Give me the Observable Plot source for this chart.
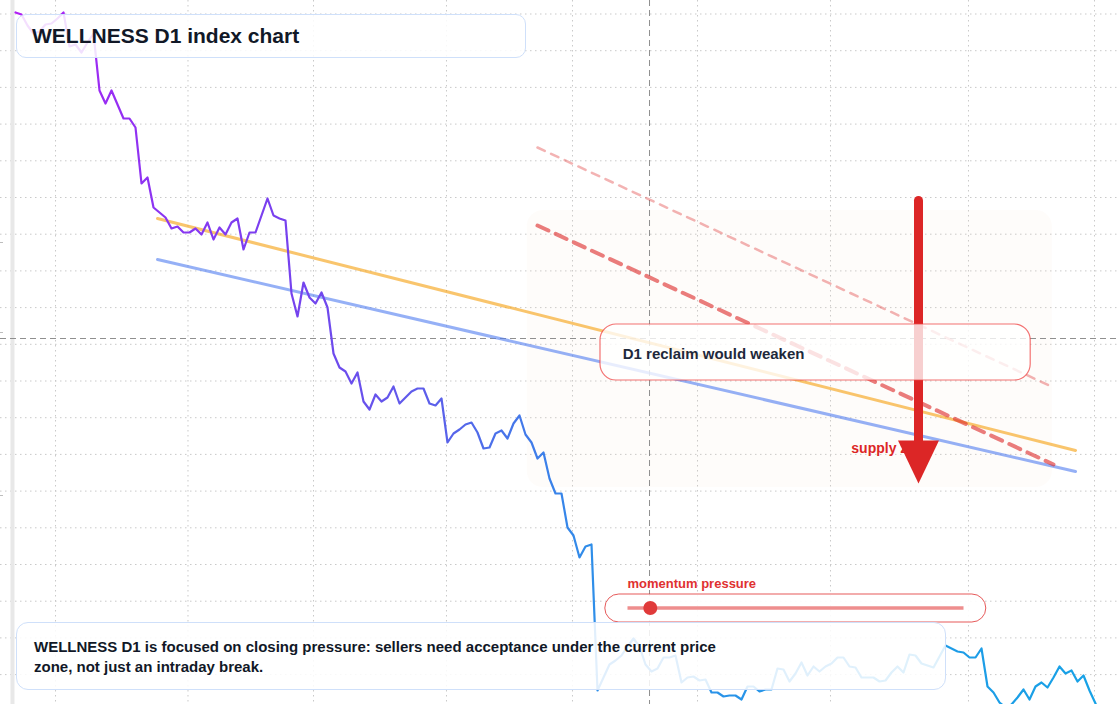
<!DOCTYPE html>
<html><head><meta charset="utf-8">
<script src="https://cdn.jsdelivr.net/npm/d3@7"></script>
<script src="https://cdn.jsdelivr.net/npm/@observablehq/plot@0.6"></script>
<style>
html,body{margin:0;padding:0;background:#fff;}
#wrap{position:relative;width:1120px;height:704px;overflow:hidden;font-family:"Liberation Sans",Arial,sans-serif;}
#wrap svg{display:block;}
.box{position:absolute;box-sizing:border-box;background:rgba(255,255,255,0.86);border:1px solid #cfe0fa;color:#111827;font-weight:bold;display:flex;align-items:center;}
#title{left:16px;top:14px;width:510px;height:44px;border-radius:10px;padding-left:15px;font-size:21px;}
#caption{left:16px;top:622px;width:930px;height:68px;border-radius:12px;padding-left:17px;padding-top:2px;font-size:15px;line-height:20px;}
</style></head>
<body>
<div id="wrap">
  <div id="chart"></div>
  <div class="box" id="title">WELLNESS D1 index chart</div>
  <div class="box" id="caption"><div>WELLNESS D1 is focused on closing pressure: sellers need acceptance under the current price<br>zone, not just an intraday break.</div></div>
</div>
<script>
// daily closes (index level), one per session
const closes = [
  988,986,975,967,969,976,977,982,988,954,
  956,948,958,967,910,897,910,896,882,882,
  873,817,823,793,788,783,772,774,768,768,
  772,766,778,761,773,766,778,782,751,768,
  768,785,802,785,782,780,707,684,718,703,
  697,708,693,647,633,629,617,628,599,591,
  606,599,603,614,597,603,609,612,612,597,
  595,602,558,567,571,576,578,568,552,553,
  567,570,562,577,585,566,558,542,548,522,
  507,507,473,465,443,454,456,310,323,336,
  340,345,354,362,354,336,329,332,343,343,
  345,318,323,324,320,321,308,308,304,305,
  305,301,314,314,309,311,311,332,331,319,
  327,338,325,334,329,334,337,343,343,334,
  333,323,323,323,319,320,328,334,328,346,
  345,337,335,333,344,355,352,349,348,343,
  343,352,314,308,298,293,296,303,311,301,
  314,318,313,323,334,327,330,319,325,310,
  297,288
];
// grid / axis positions
const monthTicks = [6.67, 28.75, 49.67, 71.83, 92.83, 113.67, 135.83, 158.83, 179.83];
const levelTicks = [986.5, 949.8, 913.1, 876.4, 839.7, 803, 766.3, 729.6, 692.9, 656.2, 619.5, 582.8, 546.1, 509.4, 472.7, 436, 399.3, 362.6, 325.9];
const axisStubs = [758, 668, 505];
// trend lines
const trendSessions = [23.67, 176.67];
const upperTrend = [782, 550];
const lowerTrend = [741, 529];
const supplySessions = [87, 173];
const supplyOuter = [853, 613];
const supplyInner = [775, 536];
// zone & annotations
const zoneSessions = [85.3, 172.8];
const zoneLevels = [790, 513];
const crossSession = 105.67;
const crossLevel = 662;
const arrowSession = 150.5;
const arrowLevels = [800, 517];
const noteSessions = [97.5, 169.2];
const noteLevels = [676, 620];
const noteText = "D1 reclaim would weaken";
const supplyLabel = "supply zone";
const momentumLabel = "momentum pressure";
const pillSessions = [98.3, 161.8];
const pillLevels = [406, 378];
const trackSessions = [102, 158];
const trackLevel = 392.5;
const momentumValue = 105.8;

const series = closes.map((v, i) => ({i, v}));
const pair = (xs, ys) => xs.map((x, k) => ({x, y: ys[k]}));

const headSymbol = {
  draw(ctx) { ctx.moveTo(0, 0); ctx.lineTo(-20.5, -43); ctx.lineTo(20.5, -43); ctx.closePath(); }
};

const chart = Plot.plot({
  width: 1120, height: 704, margin: 0,
  style: {fontFamily: "Liberation Sans, Arial, sans-serif", background: "transparent"},
  x: {domain: [-2.5, 184.1667], axis: null},
  y: {domain: [296, 1000], axis: null},
  marks: [
    Plot.ruleY(levelTicks, {stroke: "#c9c9c9", strokeDasharray: "1.5,3.5"}),
    Plot.ruleX(monthTicks, {stroke: "#c9c9c9", strokeDasharray: "1.5,3.5"}),
    Plot.ruleX([-0.5], {stroke: "#e8e8e8", strokeWidth: 4}),
    Plot.ruleY(axisStubs, {x1: -2.5, x2: -2.0, stroke: "#bdbdbd"}),
    Plot.rect([{}], {x1: zoneSessions[0], x2: zoneSessions[1], y1: zoneLevels[0], y2: zoneLevels[1], fill: "#f3dcc6", fillOpacity: 0.09, rx: 16}),
    Plot.ruleY([crossLevel], {stroke: "#8f8f8f", strokeDasharray: "6,4"}),
    Plot.ruleX([crossSession], {stroke: "#8f8f8f", strokeDasharray: "6,4"}),
    Plot.line(pair(trendSessions, upperTrend), {x: "x", y: "y", stroke: "#f59e0b", strokeOpacity: 0.6, strokeWidth: 3}),
    Plot.line(pair(trendSessions, lowerTrend), {x: "x", y: "y", stroke: "#4f7cf0", strokeOpacity: 0.6, strokeWidth: 3}),
    Plot.line(pair(supplySessions, supplyOuter), {x: "x", y: "y", stroke: "#dc2626", strokeOpacity: 0.35, strokeWidth: 2.5, strokeDasharray: "8,7"}),
    Plot.line(pair(supplySessions, supplyInner), {x: "x", y: "y", stroke: "#dc2626", strokeOpacity: 0.6, strokeWidth: 4, strokeDasharray: "12,8"}),
    Plot.line(series, {x: "i", y: "v", stroke: "url(#priceGrad)", strokeWidth: 2.2, strokeLinejoin: "round"}),
    Plot.text([supplyLabel], {x: 139.3, y: 552, text: d => d, fill: "#dc2626", fontSize: 14, fontWeight: "bold", textAnchor: "start"}),
    Plot.link([{}], {x1: arrowSession, x2: arrowSession, y1: arrowLevels[0], y2: arrowLevels[1] + 30, stroke: "#dc2626", strokeWidth: 9, strokeLinecap: "round"}),
    Plot.dot([{}], {x: arrowSession, y: arrowLevels[1], symbol: headSymbol, r: 10, fill: "#dc2626", stroke: "none"}),
    Plot.rect([{}], {x1: noteSessions[0], x2: noteSessions[1], y1: noteLevels[0], y2: noteLevels[1], fill: "white", fillOpacity: 0.78, stroke: "#ef4444", strokeOpacity: 0.75, strokeWidth: 1.2, rx: 16}),
    Plot.text([noteText], {x: 101.2, y: 646, text: d => d, fill: "#1e293b", fontSize: 15, fontWeight: "bold", textAnchor: "start"}),
    Plot.text([momentumLabel], {x: trackSessions[0], y: 417, text: d => d, fill: "#e03131", fontSize: 13, fontWeight: "bold", textAnchor: "start"}),
    Plot.rect([{}], {x1: pillSessions[0], x2: pillSessions[1], y1: pillLevels[0], y2: pillLevels[1], fill: "white", fillOpacity: 0.9, stroke: "#e03131", strokeOpacity: 0.8, strokeWidth: 1, rx: 14}),
    Plot.link([{}], {x1: trackSessions[0], x2: trackSessions[1], y1: trackLevel, y2: trackLevel, stroke: "#e03131", strokeOpacity: 0.55, strokeWidth: 3.5}),
    Plot.dot([{}], {x: momentumValue, y: trackLevel, r: 7, fill: "#e03a3a", stroke: "none"})
  ]
});

const defs = d3.select(chart).insert("defs", ":first-child");
const grad = defs.append("linearGradient").attr("id", "priceGrad").attr("x1", 0).attr("x2", 1).attr("y1", 0).attr("y2", 0);
[["0%", "#b21ff5"], ["12%", "#8e33f2"], ["26%", "#7543ee"], ["40%", "#5863ea"], ["53%", "#2f8ee9"], ["100%", "#17a2e6"]]
  .forEach(([o, c]) => grad.append("stop").attr("offset", o).attr("stop-color", c));

document.getElementById("chart").appendChild(chart);
</script>
</body></html>
